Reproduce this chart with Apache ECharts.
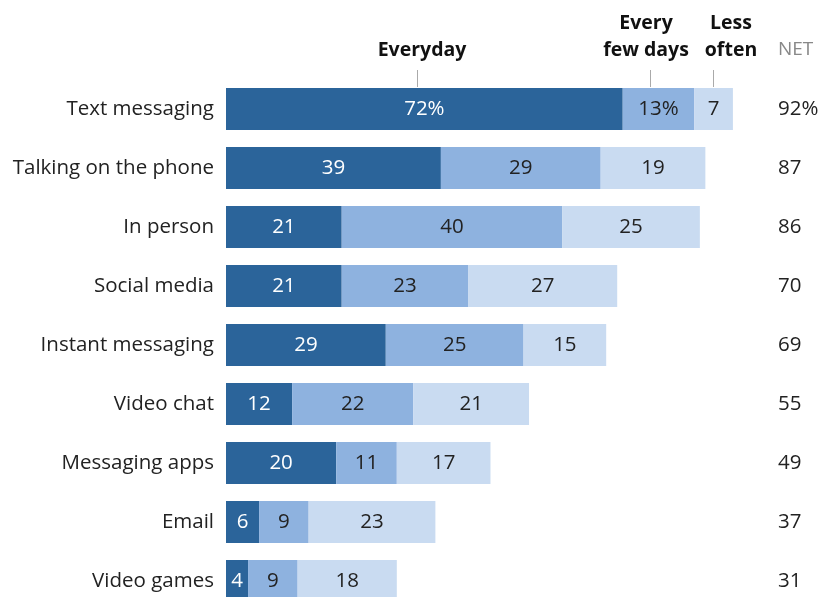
<!DOCTYPE html>
<html><head><meta charset="utf-8">
<script src="https://cdn.jsdelivr.net/npm/echarts@6/dist/echarts.min.js"></script>
<style>html,body{margin:0;padding:0;background:#fff}#c{width:834px;height:597px}</style>
</head><body><div id="c"></div>
<script>
const categories = ["Text messaging","Talking on the phone","In person","Social media","Instant messaging","Video chat","Messaging apps","Email","Video games"];
const everyday = [72,39,21,21,29,12,20,6,4];
const everyFewDays = [13,29,40,23,25,22,11,9,9];
const lessOften = [7,19,25,27,15,21,17,23,18];
const net = ["92%","87","86","70","69","55","49","37","31"];
const seriesNames = ["Everyday","Every few days","Less often"];

const FONT = "'Open Sans'";
const FS = 20.5;
const chart = echarts.init(document.getElementById('c'), null, {renderer:'canvas'});
function mk(name, data, color, txt, idx){
  return {
    name, type:'bar', stack:'s', data, barWidth:42,
    itemStyle:{color},
    label:{show:true, position:'inside', color:txt, fontFamily:FONT, fontSize:FS,
      formatter:p => (p.dataIndex===0 && idx<2) ? p.value+'%' : String(p.value)},
    silent:true
  };
}
chart.setOption({
  animation:false,
  grid:{left:226, top:79.5, width:551, height:531, containLabel:false, outerBoundsMode:'none'},
  xAxis:{type:'value', min:0, max:100, show:false},
  yAxis:[
    {type:'category', data:categories, inverse:true, axisLine:{show:false}, axisTick:{show:false},
     axisLabel:{color:'#222', fontFamily:FONT, fontSize:FS, margin:12}},
    {type:'category', data:net, inverse:true, position:'right', axisLine:{show:false}, axisTick:{show:false},
     axisLabel:{color:'#222', fontFamily:FONT, fontSize:FS, margin:1, align:'left'}}
  ],
  series:[
    mk(seriesNames[0], everyday, '#2b649a', '#fff', 0),
    mk(seriesNames[1], everyFewDays, '#8eb2df', '#222', 1),
    mk(seriesNames[2], lessOften, '#c9dbf1', '#222', 2)
  ],
  graphic:[
    {type:'text', x:422, y:50, style:{text:'Everyday', font:'bold 19.5px '+FONT, fill:'#111', align:'center', verticalAlign:'middle'}},
    {type:'text', x:646, y:36.5, style:{text:'Every\nfew days', font:'bold 19.5px '+FONT, fill:'#111', align:'center', verticalAlign:'middle', lineHeight:27}},
    {type:'text', x:731, y:36.5, style:{text:'Less\noften', font:'bold 19.5px '+FONT, fill:'#111', align:'center', verticalAlign:'middle', lineHeight:27}},
    {type:'text', x:778, y:50, style:{text:'NET', font:'19px '+FONT, fill:'#888', align:'left', verticalAlign:'middle'}},
    {type:'line', shape:{x1:417.5,y1:70,x2:417.5,y2:87}, style:{stroke:'#aaa', lineWidth:1}},
    {type:'line', shape:{x1:650.5,y1:70,x2:650.5,y2:87}, style:{stroke:'#aaa', lineWidth:1}},
    {type:'line', shape:{x1:713.5,y1:70,x2:713.5,y2:87}, style:{stroke:'#aaa', lineWidth:1}}
  ]
});
</script></body></html>
